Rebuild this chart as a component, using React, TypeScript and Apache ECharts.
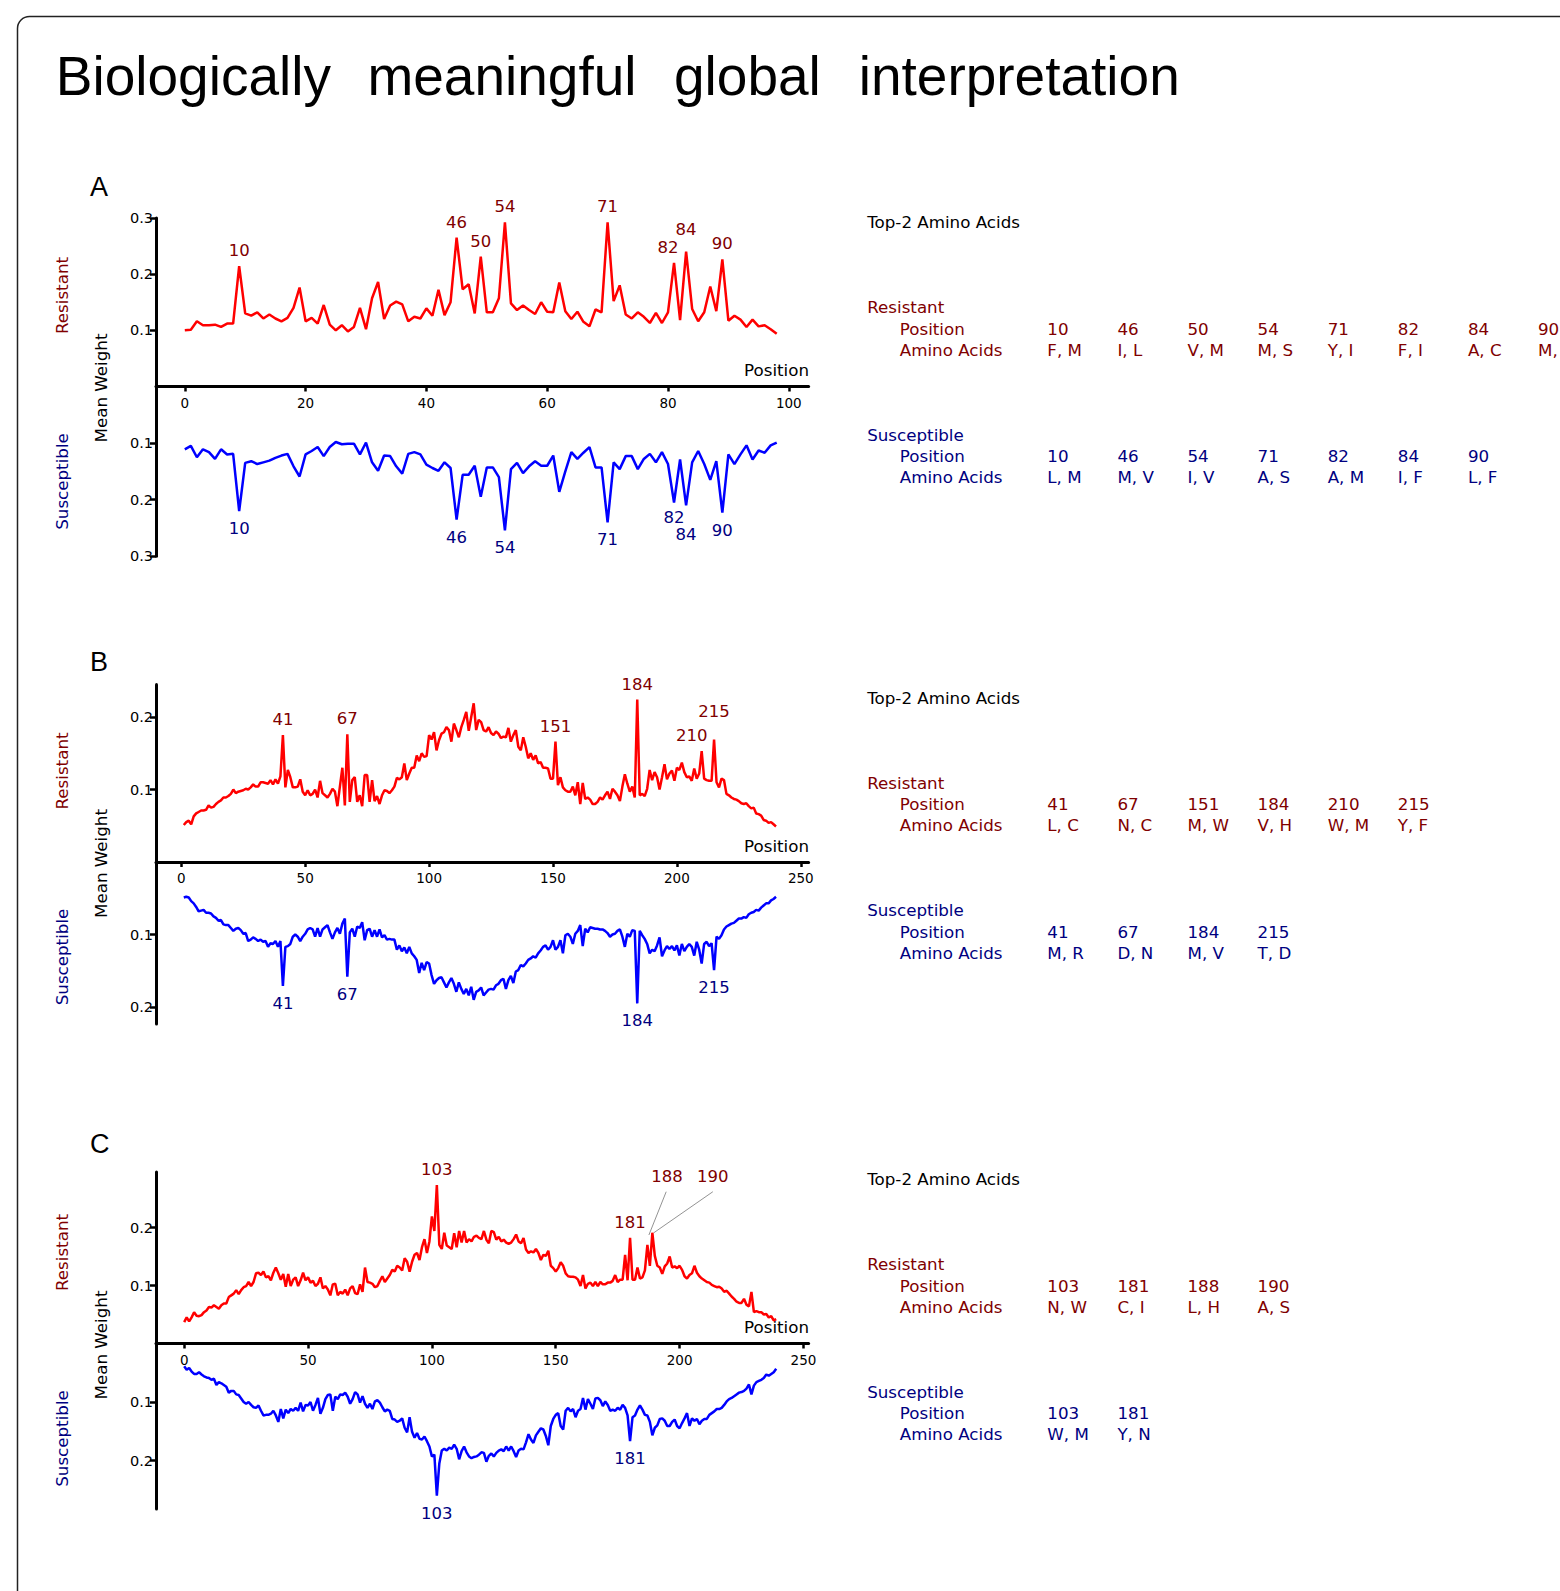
import React, { useEffect, useRef } from "react";
import * as echarts from "echarts";

// ------------------------- DATA -------------------------
// Panel A (99 positions, plotted at x = 0..98, labelled position = x + 1)
const A_X_START = 0;
const A_RESISTANT = [
  0.100, 0.101, 0.116, 0.109, 0.109, 0.110, 0.106, 0.112, 0.112, 0.214,
  0.130, 0.126, 0.132, 0.121, 0.128, 0.121, 0.116, 0.122, 0.140, 0.176,
  0.116, 0.122, 0.112, 0.145, 0.110, 0.100, 0.109, 0.098, 0.106, 0.140,
  0.102, 0.157, 0.186, 0.120, 0.144, 0.151, 0.146, 0.116, 0.124, 0.121,
  0.139, 0.126, 0.172, 0.127, 0.150, 0.265, 0.173, 0.182, 0.130, 0.231,
  0.132, 0.132, 0.157, 0.292, 0.148, 0.136, 0.144, 0.136, 0.129, 0.150,
  0.133, 0.132, 0.185, 0.134, 0.120, 0.133, 0.115, 0.107, 0.137, 0.132,
  0.292, 0.152, 0.180, 0.128, 0.121, 0.132, 0.124, 0.113, 0.131, 0.113,
  0.132, 0.220, 0.118, 0.240, 0.138, 0.116, 0.132, 0.178, 0.134, 0.226,
  0.117, 0.126, 0.119, 0.106, 0.119, 0.107, 0.109, 0.102, 0.094,
];
const A_SUSCEPTIBLE = [
  0.111, 0.105, 0.125, 0.111, 0.116, 0.128, 0.111, 0.120, 0.119, 0.220,
  0.135, 0.132, 0.137, 0.134, 0.131, 0.126, 0.122, 0.119, 0.141, 0.159,
  0.120, 0.114, 0.107, 0.123, 0.107, 0.098, 0.102, 0.101, 0.101, 0.120,
  0.099, 0.134, 0.149, 0.122, 0.123, 0.141, 0.154, 0.119, 0.116, 0.120,
  0.138, 0.144, 0.149, 0.134, 0.144, 0.235, 0.156, 0.156, 0.140, 0.195,
  0.143, 0.143, 0.160, 0.254, 0.146, 0.135, 0.153, 0.141, 0.132, 0.140,
  0.140, 0.122, 0.186, 0.150, 0.116, 0.128, 0.117, 0.107, 0.143, 0.143,
  0.240, 0.134, 0.146, 0.123, 0.123, 0.146, 0.128, 0.119, 0.134, 0.116,
  0.137, 0.205, 0.129, 0.210, 0.134, 0.114, 0.137, 0.165, 0.132, 0.223,
  0.120, 0.137, 0.120, 0.104, 0.129, 0.113, 0.117, 0.104, 0.099,
];
const A_RES_PEAKS = [10, 46, 50, 54, 71, 82, 84, 90];
const A_SUS_PEAKS = [10, 46, 54, 71, 82, 84, 90];
const A_X_TICKS = [0, 20, 40, 60, 80, 100];
const A_Y_TICKS_TOP = [0.1, 0.2, 0.3];
const A_Y_TICKS_BOTTOM = [0.1, 0.2, 0.3];
const A_TABLE_RES_POSITIONS = ["10", "46", "50", "54", "71", "82", "84", "90"];
const A_TABLE_RES_AMINO = ["F, M", "I, L", "V, M", "M, S", "Y, I", "F, I", "A, C", "M,"];
const A_TABLE_SUS_POSITIONS = ["10", "46", "54", "71", "82", "84", "90"];
const A_TABLE_SUS_AMINO = ["L, M", "M, V", "I, V", "A, S", "A, M", "I, F", "L, F"];

// Panel B (240 positions, plotted at x = 1..240)
const B_X_START = 1;
const B_RESISTANT = [
  0.051, 0.055, 0.057, 0.052, 0.063, 0.067, 0.069, 0.071, 0.071, 0.072,
  0.078, 0.075, 0.076, 0.080, 0.083, 0.085, 0.089, 0.089, 0.091, 0.094,
  0.100, 0.095, 0.097, 0.098, 0.099, 0.101, 0.100, 0.103, 0.107, 0.104,
  0.104, 0.110, 0.110, 0.109, 0.108, 0.113, 0.107, 0.114, 0.108, 0.118,
  0.175,
  0.103, 0.127, 0.117, 0.103, 0.103, 0.104, 0.114, 0.097, 0.092, 0.099,
  0.092, 0.094, 0.100, 0.089, 0.112, 0.095, 0.092, 0.089, 0.094, 0.101,
  0.097, 0.077, 0.104, 0.130, 0.078,
  0.176,
  0.083, 0.113, 0.117, 0.083, 0.092, 0.077, 0.120, 0.120, 0.083, 0.113,
  0.084, 0.091, 0.080, 0.092, 0.099, 0.098, 0.095, 0.099, 0.104, 0.116,
  0.114, 0.117, 0.136, 0.113, 0.122, 0.130, 0.130, 0.147, 0.139, 0.150,
  0.145, 0.146, 0.175, 0.169, 0.179, 0.154, 0.168, 0.177, 0.179, 0.186,
  0.182, 0.166, 0.191, 0.182, 0.172, 0.186, 0.196, 0.207, 0.181, 0.200,
  0.219, 0.182, 0.196, 0.193,
  0.182, 0.180, 0.186, 0.178, 0.175, 0.180, 0.177, 0.171, 0.173, 0.172,
  0.185, 0.166, 0.175, 0.182, 0.159, 0.154, 0.172, 0.159, 0.143, 0.150,
  0.141, 0.147, 0.136, 0.138, 0.130, 0.130, 0.129, 0.115, 0.115,
  0.166,
  0.106, 0.117, 0.103, 0.099, 0.097, 0.097, 0.104, 0.092, 0.110, 0.080,
  0.109, 0.087, 0.089, 0.086, 0.080, 0.080, 0.083, 0.089, 0.086, 0.092,
  0.097, 0.087, 0.101, 0.097, 0.092, 0.084, 0.104, 0.121, 0.108, 0.097,
  0.104, 0.089,
  0.224,
  0.092, 0.094, 0.091, 0.101, 0.127, 0.113, 0.124, 0.117, 0.100, 0.117,
  0.135, 0.114, 0.122, 0.126, 0.112, 0.130, 0.127, 0.137, 0.124, 0.117,
  0.118, 0.112, 0.129, 0.115, 0.122,
  0.153,
  0.115, 0.113, 0.112, 0.112,
  0.169,
  0.110, 0.103, 0.115, 0.113, 0.094, 0.092, 0.089, 0.087, 0.086, 0.084,
  0.081, 0.080, 0.081, 0.077, 0.074, 0.075, 0.067, 0.066, 0.064, 0.058,
  0.057, 0.054, 0.055, 0.052, 0.049,
];
const B_SUSCEPTIBLE = [
  0.049, 0.048, 0.049, 0.054, 0.057, 0.062, 0.068, 0.067, 0.066, 0.070,
  0.070, 0.071, 0.075, 0.077, 0.081, 0.080, 0.086, 0.087, 0.087, 0.091,
  0.095, 0.092, 0.091, 0.094, 0.099, 0.098, 0.109, 0.107, 0.104, 0.106,
  0.109, 0.107, 0.110, 0.109, 0.117, 0.112, 0.113, 0.109, 0.117, 0.109,
  0.171,
  0.117, 0.116, 0.113, 0.103, 0.100, 0.103, 0.109, 0.103, 0.099, 0.093,
  0.091, 0.093, 0.103, 0.091, 0.103, 0.093, 0.090, 0.087, 0.097, 0.106,
  0.097, 0.091, 0.099, 0.085, 0.078,
  0.158,
  0.097, 0.092, 0.103, 0.089, 0.091, 0.083, 0.108, 0.094, 0.092, 0.103,
  0.094, 0.103, 0.093, 0.104, 0.101, 0.107, 0.106, 0.107, 0.107, 0.121,
  0.115, 0.123, 0.118, 0.126, 0.117, 0.126, 0.130, 0.135, 0.153, 0.139,
  0.149, 0.138, 0.140, 0.156, 0.168, 0.163, 0.160, 0.159, 0.166, 0.173,
  0.166, 0.160, 0.168, 0.179, 0.166, 0.175, 0.182, 0.175, 0.184, 0.172,
  0.190, 0.179, 0.177, 0.173, 0.184,
  0.180, 0.176, 0.175, 0.176, 0.170, 0.168, 0.163, 0.161, 0.175, 0.163,
  0.157, 0.167, 0.151, 0.149, 0.142, 0.144, 0.140, 0.135, 0.133, 0.130,
  0.132, 0.126, 0.122, 0.117, 0.115, 0.121, 0.117, 0.108,
  0.121, 0.117, 0.108, 0.126, 0.101, 0.099, 0.103, 0.113, 0.099, 0.095,
  0.087, 0.116, 0.092, 0.097, 0.090, 0.091, 0.092, 0.092, 0.093, 0.093,
  0.095, 0.098, 0.103, 0.100, 0.099, 0.095, 0.093, 0.103, 0.117, 0.099,
  0.103, 0.094, 0.095,
  0.195,
  0.095, 0.101, 0.106, 0.113, 0.126, 0.121, 0.123, 0.115, 0.104, 0.130,
  0.122, 0.116, 0.120, 0.116, 0.122, 0.115, 0.129, 0.113, 0.123, 0.117,
  0.113, 0.117, 0.129, 0.110, 0.121,
  0.140,
  0.113, 0.110, 0.116, 0.112,
  0.149,
  0.103, 0.106, 0.101, 0.093, 0.089, 0.087, 0.085, 0.084, 0.081, 0.078,
  0.078, 0.076, 0.077, 0.072, 0.070, 0.069, 0.066, 0.067, 0.063, 0.060,
  0.057, 0.057, 0.053, 0.051, 0.048,
];
const B_RES_PEAKS = [41, 67, 151, 184, 210, 215];
const B_SUS_PEAKS = [41, 67, 184, 215];
const B_X_TICKS = [0, 50, 100, 150, 200, 250];
const B_Y_TICKS_TOP = [0.1, 0.2];
const B_Y_TICKS_BOTTOM = [0.1, 0.2];
const B_TABLE_RES_POSITIONS = ["41", "67", "151", "184", "210", "215"];
const B_TABLE_RES_AMINO = ["L, C", "N, C", "M, W", "V, H", "W, M", "Y, F"];
const B_TABLE_SUS_POSITIONS = ["41", "67", "184", "215"];
const B_TABLE_SUS_AMINO = ["M, R", "D, N", "M, V", "T, D"];

// Panel C (240 positions, plotted at x = 0..239, labelled position = x + 1)
const C_X_START = 0;
const C_RESISTANT = [
  0.037, 0.045, 0.038, 0.045, 0.054, 0.048, 0.047, 0.049, 0.054, 0.057,
  0.063, 0.062, 0.066, 0.063, 0.060, 0.066, 0.069, 0.069, 0.080, 0.083,
  0.086, 0.092, 0.085, 0.092, 0.097, 0.099, 0.106, 0.099, 0.106, 0.121,
  0.122, 0.118, 0.124, 0.114, 0.116, 0.109, 0.122, 0.131, 0.121, 0.110,
  0.120, 0.098, 0.120, 0.099, 0.110, 0.114, 0.099, 0.109, 0.122, 0.109,
  0.114, 0.105, 0.108, 0.099, 0.103, 0.114, 0.095, 0.099, 0.093, 0.083,
  0.102, 0.103, 0.083, 0.089, 0.086, 0.093, 0.083, 0.095, 0.099, 0.087,
  0.085, 0.102, 0.089, 0.131, 0.106, 0.105, 0.103, 0.097, 0.099, 0.108,
  0.116, 0.106, 0.112, 0.118, 0.127, 0.124, 0.134, 0.131, 0.126, 0.147,
  0.141, 0.124, 0.141, 0.153, 0.156, 0.144, 0.166, 0.180, 0.156, 0.176,
  0.219, 0.194, 0.273, 0.170, 0.163, 0.191, 0.169, 0.166, 0.163, 0.190,
  0.166, 0.194, 0.174, 0.194, 0.174, 0.180, 0.176, 0.184, 0.186, 0.182,
  0.180, 0.194, 0.179, 0.173, 0.194, 0.192, 0.179, 0.184, 0.176, 0.179,
  0.174, 0.172, 0.174, 0.180, 0.188, 0.176, 0.173, 0.182, 0.162, 0.156,
  0.159, 0.157, 0.163, 0.156, 0.144, 0.153, 0.151, 0.160, 0.134, 0.130,
  0.124, 0.130, 0.140, 0.134, 0.121, 0.116, 0.115, 0.115, 0.114, 0.110,
  0.099, 0.118, 0.095, 0.103, 0.105, 0.099, 0.106, 0.099, 0.106, 0.102,
  0.102, 0.105, 0.105, 0.108, 0.118, 0.106, 0.110, 0.110, 0.153, 0.109,
  0.182, 0.110, 0.110, 0.131, 0.112, 0.114, 0.126, 0.170, 0.134, 0.191,
  0.151, 0.134, 0.131, 0.120, 0.133, 0.138, 0.150, 0.131, 0.133, 0.130,
  0.134, 0.127, 0.116, 0.112, 0.118, 0.121, 0.134, 0.122, 0.116, 0.112,
  0.109, 0.106, 0.105, 0.101, 0.099, 0.097, 0.098, 0.095, 0.089, 0.091,
  0.086, 0.081, 0.077, 0.072, 0.070, 0.070, 0.077, 0.067, 0.064, 0.089,
  0.054, 0.056, 0.054, 0.054, 0.050, 0.051, 0.045, 0.047, 0.040, 0.042,
];
const C_SUSCEPTIBLE = [
  0.039, 0.045, 0.042, 0.048, 0.052, 0.052, 0.049, 0.053, 0.056, 0.058,
  0.059, 0.062, 0.060, 0.071, 0.066, 0.068, 0.071, 0.074, 0.084, 0.081,
  0.081, 0.087, 0.088, 0.094, 0.100, 0.103, 0.100, 0.105, 0.109, 0.110,
  0.106, 0.115, 0.123, 0.122, 0.122, 0.120, 0.115, 0.123, 0.134, 0.112,
  0.128, 0.113, 0.119, 0.112, 0.115, 0.110, 0.115, 0.101, 0.116, 0.105,
  0.106, 0.100, 0.115, 0.105, 0.093, 0.120, 0.110, 0.095, 0.088, 0.087,
  0.115, 0.091, 0.095, 0.087, 0.088, 0.084, 0.091, 0.103, 0.095, 0.083,
  0.087, 0.101, 0.090, 0.103, 0.110, 0.103, 0.112, 0.099, 0.097, 0.101,
  0.109, 0.116, 0.113, 0.115, 0.129, 0.130, 0.134, 0.132, 0.128, 0.144,
  0.152, 0.126, 0.151, 0.161, 0.153, 0.163, 0.164, 0.159, 0.167, 0.176,
  0.193, 0.190, 0.260, 0.205, 0.183, 0.180, 0.183, 0.178, 0.180, 0.173,
  0.180, 0.198, 0.184, 0.176, 0.186, 0.193, 0.196, 0.194, 0.193, 0.190,
  0.186, 0.187, 0.202, 0.192, 0.188, 0.193, 0.187, 0.183, 0.181, 0.184,
  0.176, 0.183, 0.176, 0.184, 0.194, 0.183, 0.180, 0.181, 0.169, 0.155,
  0.164, 0.170, 0.157, 0.151, 0.145, 0.147, 0.158, 0.174, 0.141, 0.129,
  0.122, 0.119, 0.141, 0.147, 0.115, 0.110, 0.116, 0.112, 0.126, 0.115,
  0.112, 0.093, 0.113, 0.095, 0.103, 0.112, 0.094, 0.093, 0.097, 0.107,
  0.099, 0.105, 0.115, 0.113, 0.115, 0.110, 0.113, 0.105, 0.110, 0.123,
  0.167, 0.126, 0.123, 0.113, 0.106, 0.113, 0.122, 0.123, 0.134, 0.157,
  0.144, 0.140, 0.129, 0.128, 0.132, 0.141, 0.141, 0.134, 0.130, 0.141,
  0.145, 0.136, 0.128, 0.119, 0.141, 0.128, 0.132, 0.129, 0.138, 0.132,
  0.129, 0.129, 0.122, 0.119, 0.116, 0.112, 0.112, 0.110, 0.105, 0.099,
  0.095, 0.093, 0.090, 0.087, 0.084, 0.083, 0.081, 0.077, 0.070, 0.087,
  0.072, 0.066, 0.064, 0.062, 0.059, 0.053, 0.055, 0.052, 0.049, 0.043,
];
const C_RES_PEAKS = [103, 181, 188, 190];
const C_SUS_PEAKS = [103, 181];
const C_X_TICKS = [0, 50, 100, 150, 200, 250];
const C_Y_TICKS_TOP = [0.1, 0.2];
const C_Y_TICKS_BOTTOM = [0.1, 0.2];
const C_TABLE_RES_POSITIONS = ["103", "181", "188", "190"];
const C_TABLE_RES_AMINO = ["N, W", "C, I", "L, H", "A, S"];
const C_TABLE_SUS_POSITIONS = ["103", "181"];
const C_TABLE_SUS_AMINO = ["W, M", "Y, N"];

const TITLE_WORDS = ["Biologically", "meaningful", "global", "interpretation"];
const PANEL_LETTERS = ["A", "B", "C"];

// ------------------------- LAYOUT / STYLE -------------------------
const W = 1560;
const H = 1591;
const FONT = '"DejaVu Sans", sans-serif';
const TITLE_FONT = '"Liberation Sans", Arial, sans-serif';
const DARK_RED = "#800000";
const NAVY = "#000080";
const RED = "#ff0000";
const BLUE = "#0000ff";
const GRID_LEFT = 156;
const GRID_W = 652.6;
const TITLE_X = [55.8, 367.4, 674, 858.7];
const TABLE_COL0 = 1047.3;
const TABLE_COL_STEP = 70.1;

const PANELS = [
  {
    letter: PANEL_LETTERS[0], xStart: A_X_START, labelShift: 1,
    res: A_RESISTANT, sus: A_SUSCEPTIBLE, resPeaks: A_RES_PEAKS, susPeaks: A_SUS_PEAKS,
    xTicks: A_X_TICKS, yTop: A_Y_TICKS_TOP, yBot: A_Y_TICKS_BOTTOM,
    tRP: A_TABLE_RES_POSITIONS, tRA: A_TABLE_RES_AMINO, tSP: A_TABLE_SUS_POSITIONS, tSA: A_TABLE_SUS_AMINO,
    axisY: 386.5, topH: 168.6, topMax: 0.3, botH: 169.8, botMax: 0.3, xMin: -4.77, xMax: 103.28,
    resOff: { 82: [-6, 0], 84: [0, -7] } as Record<number, number[]>,
    susOff: { 82: [0, -3], 84: [0, 12] } as Record<number, number[]>,
  },
  {
    letter: PANEL_LETTERS[1], xStart: B_X_START, labelShift: 0,
    res: B_RESISTANT, sus: B_SUSCEPTIBLE, resPeaks: B_RES_PEAKS, susPeaks: B_SUS_PEAKS,
    xTicks: B_X_TICKS, yTop: B_Y_TICKS_TOP, yBot: B_Y_TICKS_BOTTOM,
    tRP: B_TABLE_RES_POSITIONS, tRA: B_TABLE_RES_AMINO, tSP: B_TABLE_SUS_POSITIONS, tSA: B_TABLE_SUS_AMINO,
    axisY: 862, topH: 177.6, topMax: 0.245, botH: 162, botMax: 0.2234, xMin: -10.21, xMax: 253.15,
    resOff: { 210: [-10, 0], 215: [0, -12] } as Record<number, number[]>,
    susOff: {} as Record<number, number[]>,
  },
  {
    letter: PANEL_LETTERS[2], xStart: C_X_START, labelShift: 1,
    res: C_RESISTANT, sus: C_SUSCEPTIBLE, resPeaks: C_RES_PEAKS, susPeaks: C_SUS_PEAKS,
    xTicks: C_X_TICKS, yTop: C_Y_TICKS_TOP, yBot: C_Y_TICKS_BOTTOM,
    tRP: C_TABLE_RES_POSITIONS, tRA: C_TABLE_RES_AMINO, tSP: C_TABLE_SUS_POSITIONS, tSA: C_TABLE_SUS_AMINO,
    axisY: 1343.5, topH: 171.5, topMax: 0.2957, botH: 165.5, botMax: 0.2829, xMin: -11.38, xMax: 252.08,
    resOff: { 188: [19.7, -53], 190: [60.3, -40.8] } as Record<number, number[]>,
    susOff: {} as Record<number, number[]>,
  },
];
// leader lines for panel C labels 188/190: [peak label, startDx, startDy, endDx, endDy]
const C_LEADERS = [
  [188, 18.8, -53.2, 1.5, -9.9],
  [190, 60.5, -41, 1.5, 0],
];

function txt(id: string, x: number, y: number, text: string, opts: any = {}) {
  return {
    type: "text",
    id,
    x,
    y,
    rotation: opts.rotation || 0,
    silent: true,
    style: {
      text,
      fill: opts.fill || "#000",
      fontSize: opts.fontSize || 16.7,
      fontFamily: opts.fontFamily || FONT,
      align: opts.align || "left",
      verticalAlign: "middle",
    },
  };
}

export default function App() {
  const ref = useRef<HTMLDivElement>(null);

  useEffect(() => {
    if (!ref.current) return;
    const chart = echarts.init(ref.current, undefined, { renderer: "svg" });

    const grids: any[] = [];
    const xAxes: any[] = [];
    const yAxes: any[] = [];
    const series: any[] = [];
    const graphics: any[] = [];

    graphics.push({
      type: "rect",
      id: "border",
      silent: true,
      shape: { x: 17.5, y: 16.5, width: 1700, height: 1700, r: 12 },
      style: { fill: "none", stroke: "#222", lineWidth: 1.5 },
    });
    TITLE_WORDS.forEach((w, i) =>
      graphics.push(txt("title" + i, TITLE_X[i], 76, w, { fontSize: 55, fontFamily: TITLE_FONT }))
    );

    const axisLineStyle = { color: "#000", width: 3 };
    const xTickLabel = { fontSize: 13.5, fontFamily: FONT, color: "#000" };
    const yTickLabel = { fontSize: 14.5, fontFamily: FONT, color: "#000" };

    PANELS.forEach((p, pi) => {
      const gT = pi * 2;
      const gB = pi * 2 + 1;
      grids.push({ left: GRID_LEFT, width: GRID_W, top: p.axisY - p.topH, height: p.topH, outerBoundsMode: "none" });
      grids.push({ left: GRID_LEFT, width: GRID_W, top: p.axisY, height: p.botH, outerBoundsMode: "none" });

      xAxes.push({
        gridIndex: gT, type: "value", min: p.xMin, max: p.xMax, position: "bottom",
        axisLine: { show: true, onZero: false, lineStyle: axisLineStyle },
        axisTick: { show: true, length: 5, lineStyle: { color: "#000", width: 2.5 }, customValues: p.xTicks },
        axisLabel: { show: true, customValues: p.xTicks, margin: 9, ...xTickLabel },
        splitLine: { show: false },
      });
      xAxes.push({ gridIndex: gB, type: "value", min: p.xMin, max: p.xMax, show: false });

      const yCommon = (ticks: number[]) => ({
        type: "value", min: 0,
        axisLine: { show: true, onZero: false, lineStyle: axisLineStyle },
        axisTick: { show: true, length: 6, lineStyle: { color: "#000", width: 2.5 }, customValues: ticks },
        axisLabel: { show: true, customValues: ticks, margin: 3, formatter: (v: number) => v.toFixed(1), ...yTickLabel },
        splitLine: { show: false },
      });
      yAxes.push({ gridIndex: gT, max: p.topMax, ...yCommon(p.yTop) });
      yAxes.push({ gridIndex: gB, max: p.botMax, inverse: true, ...yCommon(p.yBot) });

      const toPts = (vals: number[]) => vals.map((v, i) => [p.xStart + i, v]);
      series.push({
        type: "line", xAxisIndex: gT, yAxisIndex: gT, data: toPts(p.res), showSymbol: false,
        lineStyle: { color: RED, width: 2.5 }, silent: true, z: 3,
      });
      series.push({
        type: "line", xAxisIndex: gB, yAxisIndex: gB, data: toPts(p.sus), showSymbol: false,
        lineStyle: { color: BLUE, width: 2.5 }, silent: true, z: 3,
      });

      const peakData = (peaks: number[], vals: number[], offs: Record<number, number[]>, top: boolean) =>
        peaks.map((lbl) => {
          const x = lbl - p.labelShift;
          return {
            name: String(lbl),
            value: [x, vals[x - p.xStart]],
            label: {
              show: true,
              position: top ? "top" : "bottom",
              distance: top ? 7 : 9,
              offset: offs[lbl] || [0, 0],
              formatter: "{b}",
              color: top ? DARK_RED : NAVY,
              opacity: 1,
              fontSize: 16.5,
              fontFamily: FONT,
            },
          };
        });
      series.push({
        type: "scatter", xAxisIndex: gT, yAxisIndex: gT, symbolSize: 0.01, silent: true, z: 5,
        itemStyle: { color: "rgba(0,0,0,0)", opacity: 1 }, data: peakData(p.resPeaks, p.res, p.resOff, true),
      });
      series.push({
        type: "scatter", xAxisIndex: gB, yAxisIndex: gB, symbolSize: 0.01, silent: true, z: 5,
        itemStyle: { color: "rgba(0,0,0,0)", opacity: 1 }, data: peakData(p.susPeaks, p.sus, p.susOff, false),
      });

      // side texts
      const ay = p.axisY;
      graphics.push(txt(`letter${pi}`, 90, ay - 200, p.letter, { fontSize: 27, fontFamily: TITLE_FONT }));
      graphics.push(txt(`res${pi}`, 61.5, ay - 91, "Resistant", { rotation: Math.PI / 2, align: "center", fill: DARK_RED }));
      graphics.push(txt(`sus${pi}`, 61.5, ay + 95, "Susceptible", { rotation: Math.PI / 2, align: "center", fill: NAVY }));
      graphics.push(txt(`mw${pi}`, 101, ay + 1.5, "Mean Weight", { rotation: Math.PI / 2, align: "center" }));
      graphics.push(txt(`pos${pi}`, 809, ay - 16.5, "Position", { align: "right" }));

      // table
      const t0 = ay - 164.5;
      graphics.push(txt(`top2${pi}`, 867.2, t0, "Top-2 Amino Acids"));
      graphics.push(txt(`tr${pi}`, 867.2, t0 + 85.3, "Resistant", { fill: DARK_RED }));
      graphics.push(txt(`trp${pi}`, 899.8, t0 + 106.5, "Position", { fill: DARK_RED }));
      graphics.push(txt(`tra${pi}`, 899.8, t0 + 127.7, "Amino Acids", { fill: DARK_RED }));
      p.tRP.forEach((s, k) => graphics.push(txt(`trp${pi}_${k}`, TABLE_COL0 + TABLE_COL_STEP * k, t0 + 106.5, s, { fill: DARK_RED })));
      p.tRA.forEach((s, k) => graphics.push(txt(`tra${pi}_${k}`, TABLE_COL0 + TABLE_COL_STEP * k, t0 + 127.7, s, { fill: DARK_RED })));
      graphics.push(txt(`ts${pi}`, 867.2, t0 + 212.6, "Susceptible", { fill: NAVY }));
      graphics.push(txt(`tsp${pi}`, 899.8, t0 + 234, "Position", { fill: NAVY }));
      graphics.push(txt(`tsa${pi}`, 899.8, t0 + 255.3, "Amino Acids", { fill: NAVY }));
      p.tSP.forEach((s, k) => graphics.push(txt(`tsp${pi}_${k}`, TABLE_COL0 + TABLE_COL_STEP * k, t0 + 234, s, { fill: NAVY })));
      p.tSA.forEach((s, k) => graphics.push(txt(`tsa${pi}_${k}`, TABLE_COL0 + TABLE_COL_STEP * k, t0 + 255.3, s, { fill: NAVY })));
    });

    chart.setOption({
      animation: false,
      backgroundColor: "#fff",
      grid: grids,
      xAxis: xAxes,
      yAxis: yAxes,
      series,
      graphic: graphics,
    });

    // leader lines of panel C (computed through the chart's own scale)
    const pc = PANELS[2];
    const leaders = C_LEADERS.map(([lbl, sx, sy, ex, ey], i) => {
      const x = lbl - pc.labelShift;
      const pt = chart.convertToPixel({ xAxisIndex: 4, yAxisIndex: 4 }, [x, pc.res[x - pc.xStart]]) as number[];
      return {
        type: "line",
        id: "leader" + i,
        silent: true,
        shape: { x1: pt[0] + sx, y1: pt[1] + sy, x2: pt[0] + ex, y2: pt[1] + ey },
        style: { stroke: "#777", lineWidth: 0.8 },
        z: 10,
      };
    });
    chart.setOption({ graphic: [...graphics, ...leaders] });

    return () => chart.dispose();
  }, []);

  return (
    <div
      ref={ref}
      style={{ position: "absolute", left: 0, top: 0, width: W, height: H, background: "#fff" }}
    />
  );
}
